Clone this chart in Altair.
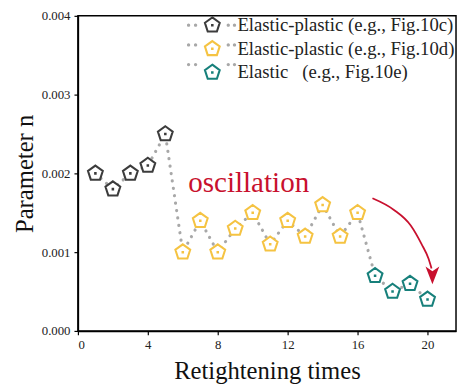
import altair as alt
import pandas as pd

# ---- data ----
t = list(range(1, 21))
n = [0.0020, 0.0018, 0.0020, 0.0021, 0.0025,
     0.0010, 0.0014, 0.0010, 0.0013, 0.0015, 0.0011, 0.0014, 0.0012, 0.0016, 0.0012, 0.0015,
     0.0007, 0.0005, 0.0006, 0.0004]
series_names = ["Elastic-plastic (e.g., Fig.10c)",
                "Elastic-plastic (e.g., Fig.10d)",
                "Elastic\u00a0\u00a0\u00a0(e.g., Fig.10e)"]
series = [series_names[0]] * 5 + [series_names[1]] * 11 + [series_names[2]] * 4
colors = ["#3c3c3c", "#f5c342", "#17807b"]

x_ticks = [0, 2, 4, 6, 8, 10, 12, 14, 16, 18, 20]
y_ticks = [0.0, 0.0005, 0.001, 0.0015, 0.002, 0.0025, 0.003, 0.0035, 0.004]

note_text = ["oscillation"]
note_x = [9.77]
note_y = [0.00176]

arrow_x = [16.85, 18.08, 19.04, 19.66, 20.06, 20.23]
arrow_y = [0.001684, 0.001536, 0.001338, 0.001102, 0.000916, 0.000793]
head_x = [20.28]
head_y = [0.000706]

df = pd.DataFrame({"t": t, "n": n, "series": series})
df["ghost"] = [s + " " for s in series]
ghost_names = [s + " " for s in series_names]
note_df = pd.DataFrame({"x": note_x, "y": note_y, "text": note_text})
arrow_df = pd.DataFrame({"x": arrow_x, "y": arrow_y, "k": list(range(len(arrow_x)))})
head_df = pd.DataFrame({"x": head_x, "y": head_y})

# ---- styling ----
PENT = ("M0,-1L0.951,-0.309L0.588,0.809L-0.588,0.809L-0.951,-0.309Z"
        "M-0.03,-0.03L0.03,-0.03L0.03,0.03L-0.03,0.03Z")


def dot(cx, r=0.21):
    return f"M{cx - r},0a{r},{r} 0 1,0 {2 * r},0a{r},{r} 0 1,0 {-2 * r},0Z"


DOTS = dot(-3.05) + dot(-2.15) + dot(2.05) + dot(2.85)
HEAD = "M0,1L-0.78,-1L0,-0.45L0.78,-1Z"
RED = "#c8102e"
GRAY = "#a8a8a8"
FONT = "Liberation Serif"

XMAX = 21.63
xs = alt.Scale(domain=[0, XMAX], nice=False, zero=False)
ys = alt.Scale(domain=[0, 0.004], nice=False)

x_axis = alt.Axis(
    values=x_ticks, title="Retightening times",
    labelExpr="datum.value % 4 === 0 ? datum.label : ''",
    tickSize={"condition": {"test": "datum.value % 4 === 0", "value": 4}, "value": 2},
    grid=False, titlePadding=7, labelFont=FONT, titleFont=FONT,
)
y_axis = alt.Axis(
    values=y_ticks, title="Parameter n",
    labelExpr="abs(datum.value*1000 - round(datum.value*1000)) < 1e-6 ? format(datum.value, '.3f') : ''",
    tickSize={"condition": {"test": "abs(datum.value*1000 - round(datum.value*1000)) < 1e-6", "value": 4}, "value": 2},
    grid=False, titlePadding=4, labelFont=FONT, titleFont=FONT,
)

base = alt.Chart(df)

line = base.mark_line(
    color=GRAY, strokeWidth=3.2, strokeDash=[0.1, 7.5], strokeCap="round"
).encode(
    x=alt.X("t:Q", scale=xs, axis=x_axis),
    y=alt.Y("n:Q", scale=ys, axis=y_axis),
    order="t:Q",
)

LEG_X = 127
LEG_Y = 0

points = base.mark_point(
    shape=PENT, size=250, strokeWidth=2.1, filled=False, fill="white", fillOpacity=1, opacity=1
).encode(
    x=alt.X("t:Q", scale=xs),
    y=alt.Y("n:Q", scale=ys),
    stroke=alt.Stroke(
        "series:N",
        scale=alt.Scale(domain=series_names, range=colors),
        legend=alt.Legend(
            title=None, orient="none", legendX=LEG_X, legendY=LEG_Y,
            symbolType=PENT, symbolSize=250, symbolStrokeWidth=2.1,
            symbolFillColor="white", labelFontSize=19, labelFont=FONT,
            labelColor="#222222", rowPadding=0, labelOffset=16, padding=0,
            labelLimit=400,
        ),
    ),
)

ghost = base.transform_filter("datum.t < 0").mark_point(
    size=250, filled=True, color=GRAY, opacity=1
).encode(
    x=alt.X("t:Q", scale=xs),
    y=alt.Y("n:Q", scale=ys),
    shape=alt.Shape(
        "ghost:N",
        scale=alt.Scale(domain=ghost_names, range=[DOTS] * 3),
        legend=alt.Legend(
            title=None, orient="none", legendX=LEG_X, legendY=LEG_Y,
            symbolSize=250, symbolFillColor=GRAY, symbolStrokeColor=GRAY,
            symbolStrokeWidth=0, symbolOpacity=1, labelExpr="''", labelFontSize=19,
            labelFont=FONT, rowPadding=0, labelOffset=16, padding=0,
        ),
    ),
)

note = alt.Chart(note_df).mark_text(
    font=FONT, fontSize=29.5, color=RED, align="center", baseline="alphabetic"
).encode(
    x=alt.X("x:Q", scale=xs), y=alt.Y("y:Q", scale=ys), text="text:N"
)

arrow = alt.Chart(arrow_df).mark_line(
    color=RED, strokeWidth=1.8, interpolate="monotone"
).encode(
    x=alt.X("x:Q", scale=xs), y=alt.Y("y:Q", scale=ys), order="k:Q"
)

head = alt.Chart(head_df).mark_point(
    shape=HEAD, size=324, filled=True, color=RED, opacity=1, strokeWidth=0
).encode(
    x=alt.X("x:Q", scale=xs), y=alt.Y("y:Q", scale=ys)
)

chart = alt.layer(line, points, ghost, note, arrow, head).properties(
    width=384, height=320,
    autosize=alt.AutoSizeParams(type="none"),
    padding={"left": 71, "top": 5, "right": 1, "bottom": 55},
).configure_view(
    stroke="black", strokeWidth=1.5
).configure_axis(
    labelFont=FONT, labelFontSize=13, labelColor="#222222",
    titleFont=FONT, titleFontSize=25, titleFontWeight="normal", titleColor="#111111",
    domainColor="black", domainWidth=1.5, tickColor="black", tickWidth=1.2,
    labelPadding=4,
).configure_legend(
    labelFont=FONT
)

chart.save("out.html", embed_options={"renderer": "svg", "actions": False})
